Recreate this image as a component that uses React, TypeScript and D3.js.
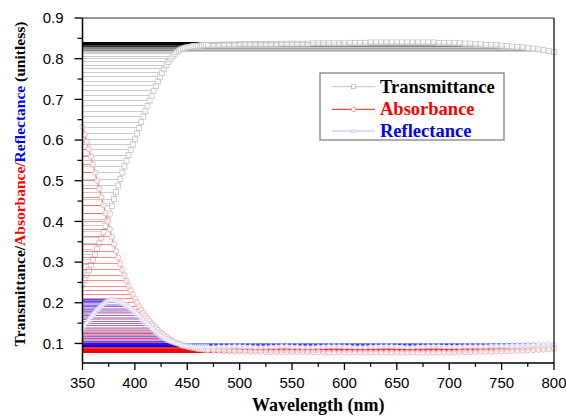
import React from 'react';
import * as d3 from 'd3';

const wavelength = [
  350, 352, 354, 356, 358, 360, 362, 364, 366, 368, 370, 372, 374, 376, 378, 380, 382, 384, 386, 388,
  390, 392, 394, 396, 398, 400, 402, 404, 406, 408, 410, 412, 414, 416, 418, 420, 422, 424, 426, 428,
  430, 432, 434, 436, 438, 440, 442, 444, 446, 448, 450, 452, 454, 456, 458, 460, 462, 464, 466, 468, 470,
  475, 480, 485, 490, 495, 500, 505, 510, 515, 520, 525, 530, 535, 540, 545, 550, 555, 560, 565, 570,
  575, 580, 585, 590, 595, 600, 605, 610, 615, 620, 625, 630, 635, 640, 645, 650, 655, 660, 665, 670,
  675, 680, 685, 690, 695, 700, 705, 710, 715, 720, 725, 730, 735, 740, 745, 750, 755, 760, 765, 770,
  775, 780, 785, 790, 795, 800,
];

const transmittance = [
  0.245, 0.256, 0.268, 0.28, 0.293, 0.306, 0.319, 0.332, 0.346, 0.36, 0.374, 0.389, 0.404, 0.419, 0.438, 0.455, 0.472, 0.488, 0.504, 0.52,
  0.535, 0.549, 0.563, 0.576, 0.589, 0.602, 0.616, 0.63, 0.644, 0.658, 0.671, 0.684, 0.697, 0.709, 0.721, 0.733, 0.744, 0.755, 0.765, 0.775,
  0.784, 0.792, 0.8, 0.806, 0.812, 0.816, 0.82, 0.823, 0.825, 0.827, 0.828, 0.829, 0.83, 0.831, 0.831, 0.832, 0.832, 0.833, 0.833, 0.834, 0.834,
  0.834, 0.834, 0.835, 0.835, 0.835, 0.836, 0.836, 0.836, 0.836, 0.836, 0.836, 0.836, 0.836, 0.837, 0.837, 0.837, 0.837, 0.837, 0.837, 0.838,
  0.838, 0.838, 0.838, 0.838, 0.838, 0.838, 0.839, 0.839, 0.839, 0.839, 0.84, 0.84, 0.84, 0.84, 0.84, 0.84, 0.84, 0.84, 0.84, 0.84,
  0.84, 0.84, 0.84, 0.839, 0.839, 0.839, 0.838, 0.838, 0.837, 0.837, 0.836, 0.835, 0.834, 0.834, 0.833, 0.832, 0.831, 0.83, 0.829, 0.828,
  0.826, 0.825, 0.823, 0.821, 0.819, 0.817,
];

const absorbance = [
  0.632, 0.614, 0.596, 0.578, 0.559, 0.54, 0.52, 0.5, 0.48, 0.46, 0.44, 0.42, 0.4, 0.381, 0.362, 0.344, 0.327, 0.311, 0.296, 0.281,
  0.267, 0.254, 0.241, 0.23, 0.22, 0.21, 0.2, 0.191, 0.183, 0.175, 0.168, 0.161, 0.155, 0.149, 0.143, 0.138, 0.133, 0.128, 0.124, 0.12,
  0.116, 0.112, 0.109, 0.106, 0.103, 0.101, 0.099, 0.097, 0.095, 0.094, 0.092, 0.091, 0.09, 0.089, 0.088, 0.087, 0.086, 0.086, 0.085, 0.085, 0.084,
  0.083, 0.083, 0.082, 0.082, 0.081, 0.081, 0.08, 0.08, 0.08, 0.08, 0.079, 0.079, 0.079, 0.079, 0.079, 0.079, 0.079, 0.079, 0.079, 0.079,
  0.079, 0.078, 0.078, 0.078, 0.078, 0.078, 0.078, 0.078, 0.078, 0.078, 0.078, 0.078, 0.078, 0.078, 0.078, 0.078, 0.078, 0.078, 0.078, 0.078,
  0.078, 0.078, 0.078, 0.078, 0.078, 0.078, 0.078, 0.079, 0.079, 0.079, 0.079, 0.08, 0.08, 0.08, 0.081, 0.081, 0.081, 0.082, 0.082, 0.083,
  0.083, 0.084, 0.085, 0.085, 0.086, 0.087,
];

const reflectance = [
  0.138, 0.145, 0.152, 0.159, 0.166, 0.172, 0.178, 0.184, 0.189, 0.194, 0.198, 0.202, 0.205, 0.207, 0.208, 0.207, 0.206, 0.204, 0.202, 0.2,
  0.197, 0.194, 0.19, 0.186, 0.182, 0.178, 0.174, 0.169, 0.164, 0.159, 0.154, 0.149, 0.144, 0.139, 0.134, 0.129, 0.125, 0.121, 0.117, 0.114,
  0.111, 0.108, 0.106, 0.104, 0.102, 0.1, 0.099, 0.097, 0.096, 0.095, 0.094, 0.093, 0.093, 0.092, 0.092, 0.092, 0.092, 0.092, 0.092, 0.092, 0.092,
  0.092, 0.093, 0.093, 0.093, 0.094, 0.094, 0.093, 0.093, 0.092, 0.092, 0.092, 0.093, 0.093, 0.094, 0.094, 0.093, 0.093, 0.092, 0.092, 0.092,
  0.093, 0.093, 0.094, 0.094, 0.094, 0.093, 0.093, 0.092, 0.092, 0.092, 0.093, 0.093, 0.094, 0.094, 0.094, 0.093, 0.093, 0.092, 0.092, 0.093,
  0.093, 0.094, 0.094, 0.094, 0.093, 0.093, 0.093, 0.093, 0.094, 0.094, 0.094, 0.094, 0.094, 0.095, 0.095, 0.095, 0.095, 0.096, 0.096, 0.096,
  0.097, 0.097, 0.098, 0.098, 0.099, 0.099,
];

const xTicks = [350, 400, 450, 500, 550, 600, 650, 700, 750, 800];
const yTicks = [0.1, 0.2, 0.3, 0.4, 0.5, 0.6, 0.7, 0.8, 0.9];

const legendItems = ['Transmittance', 'Absorbance', 'Reflectance'];

const W = 566;
const H = 417;
const x = d3.scaleLinear().domain([350, 800]).range([82.5, 554]);
const y = d3.scaleLinear().domain([0.052, 0.9]).range([363, 18]);

const SERIF = '"Liberation Serif", "Times New Roman", serif';
const SANS = '"Liberation Sans", Arial, sans-serif';

type Pt = { w: number; v: number };
const toPts = (vals: number[]): Pt[] => wavelength.map((w, i) => ({ w, v: vals[i] }));

const lineGen = d3
  .line<Pt>()
  .x((d) => x(d.w))
  .y((d) => y(d.v))
  .curve(d3.curveMonotoneX);

function tri(cx: number, cy: number, s: number) {
  const h = s * 0.9;
  return `M${cx},${cy - h * 0.6}L${cx + s / 2},${cy + h * 0.4}L${cx - s / 2},${cy + h * 0.4}Z`;
}

function Series({
  vals,
  dropColor,
  dropOpacity,
  lineColor,
  lineWidth,
  marker,
  markerStroke,
}: {
  vals: number[];
  dropColor: string;
  dropOpacity: number;
  lineColor: string;
  lineWidth: number;
  marker: 'square' | 'circle' | 'triangle';
  markerStroke: string;
}) {
  const pts = toPts(vals);
  return (
    <g>
      <g stroke={dropColor} strokeOpacity={dropOpacity} strokeWidth={1} shapeRendering="crispEdges">
        {pts.map((p, i) => (
          <line key={i} x1={x(350)} x2={x(p.w)} y1={y(p.v)} y2={y(p.v)} />
        ))}
      </g>
      <path d={lineGen(pts) || ''} fill="none" stroke={lineColor} strokeWidth={lineWidth} />
      <g stroke={markerStroke} strokeWidth={0.8} fill="#fff" fillOpacity={0.8}>
        {pts.map((p, i) => {
          const cx = x(p.w);
          const cy = y(p.v);
          if (marker === 'square') return <rect key={i} x={cx - 2.5} y={cy - 2.5} width={5} height={5} />;
          if (marker === 'circle') return <circle key={i} cx={cx} cy={cy} r={2.7} />;
          return <path key={i} d={tri(cx, cy, 5.5)} />;
        })}
      </g>
    </g>
  );
}

export default function App() {
  const xMinor = xTicks.slice(0, -1).map((t, i) => (t + xTicks[i + 1]) / 2);
  const yMinor = yTicks.slice(0, -1).map((t, i) => (t + yTicks[i + 1]) / 2);
  const x0 = x(350);
  const x1 = x(800);
  const yTop = y(0.9);
  const yBot = y(0.052);

  const legendX = 320;
  const legendY = 73;
  const rows = [86.7, 109.3, 131];
  const legendColors = ['#000', '#ff0000', '#0000ff'];

  return (
    <div style={{ position: 'fixed', left: 0, top: 0 }}>
      <svg width={W} height={H} viewBox={`0 0 ${W} ${H}`} style={{ display: 'block', background: '#fff' }}>
        <rect x={0} y={0} width={W} height={H} fill="#fff" />

        <Series
          vals={transmittance}
          dropColor="#000"
          dropOpacity={0.2}
          lineColor="#d0d0d0"
          lineWidth={1.5}
          marker="square"
          markerStroke="#c4c4c4"
        />
        <Series
          vals={absorbance}
          dropColor="#ff0000"
          dropOpacity={0.45}
          lineColor="#e88080"
          lineWidth={1.2}
          marker="circle"
          markerStroke="#eca8a8"
        />
        <Series
          vals={reflectance}
          dropColor="#0000ff"
          dropOpacity={0.3}
          lineColor="#d8d8f6"
          lineWidth={2.5}
          marker="triangle"
          markerStroke="#d2d2f2"
        />

        {/* frame */}
        <line x1={x0} x2={x1} y1={yTop} y2={yTop} stroke="#333" strokeWidth={1} />
        <line x1={x1} x2={x1} y1={yTop} y2={yBot} stroke="#000" strokeWidth={1.2} />
        <line x1={x0} x2={x0} y1={yTop} y2={yBot} stroke="#000" strokeWidth={1.5} />
        <line x1={x0} x2={x1} y1={yBot} y2={yBot} stroke="#000" strokeWidth={1.5} />

        {/* y ticks */}
        {yTicks.map((t) => (
          <g key={'y' + t}>
            <line x1={x0 - 8} x2={x0} y1={y(t)} y2={y(t)} stroke="#000" strokeWidth={1.3} />
            <text
              x={x0 - 19}
              y={y(t) + 5.3}
              textAnchor="end"
              fontFamily={SANS}
              fontSize={15}
              fill="#000"
            >
              {t.toFixed(1)}
            </text>
          </g>
        ))}
        {yMinor.map((t) => (
          <line key={'ym' + t} x1={x0 - 5} x2={x0} y1={y(t)} y2={y(t)} stroke="#000" strokeWidth={1.2} />
        ))}

        {/* x ticks */}
        {xTicks.map((t) => (
          <g key={'x' + t}>
            <line x1={x(t)} x2={x(t)} y1={yBot} y2={yBot + 7} stroke="#000" strokeWidth={1.3} />
            <text x={x(t)} y={yBot + 25} textAnchor="middle" fontFamily={SANS} fontSize={15} fill="#000">
              {t}
            </text>
          </g>
        ))}
        {xMinor.map((t) => (
          <line key={'xm' + t} x1={x(t)} x2={x(t)} y1={yBot} y2={yBot + 4} stroke="#000" strokeWidth={1.2} />
        ))}

        {/* axis titles */}
        <text
          x={(x0 + x1) / 2}
          y={411}
          textAnchor="middle"
          fontFamily={SERIF}
          fontWeight="bold"
          fontSize={18}
          fill="#000"
        >
          Wavelength (nm)
        </text>
        <text
          transform={`translate(25, 184) rotate(-90)`}
          textAnchor="middle"
          fontFamily={SERIF}
          fontWeight="bold"
          fontSize={15.5}
        >
          <tspan fill="#000">Transmittance/</tspan>
          <tspan fill="#ff0000">Absorbance/</tspan>
          <tspan fill="#0000ff">Reflectance</tspan>
          <tspan fill="#000"> (unitless)</tspan>
        </text>

        {/* legend */}
        <rect x={legendX} y={legendY} width={184} height={67} fill="#fff" stroke="#777" strokeWidth={1.2} />
        {legendItems.map((name, i) => {
          const cy = rows[i];
          const lx1 = 332;
          const lx2 = 375;
          const mx = (lx1 + lx2) / 2;
          const lc = ['#cfcfcf', '#f04848', '#dcdcf6'][i];
          const ms = ['#b8b8b8', '#e88080', '#c8c8ee'][i];
          return (
            <g key={name}>
              <line x1={lx1} x2={lx2} y1={cy} y2={cy} stroke={lc} strokeWidth={i === 2 ? 2 : 1.2} />
              {i === 0 && <rect x={mx - 2} y={cy - 2} width={4} height={4} fill="#fff" stroke={ms} strokeWidth={0.8} />}
              {i === 1 && <circle cx={mx} cy={cy} r={2.3} fill="#fff" stroke={ms} strokeWidth={0.8} />}
              {i === 2 && <path d={tri(mx, cy, 4.5)} fill="#fff" stroke={ms} strokeWidth={0.8} />}
              <text
                x={380}
                y={cy + 6}
                fontFamily={SERIF}
                fontWeight="bold"
                fontSize={18.5}
                fill={legendColors[i]}
              >
                {name}
              </text>
            </g>
          );
        })}
      </svg>
    </div>
  );
}
